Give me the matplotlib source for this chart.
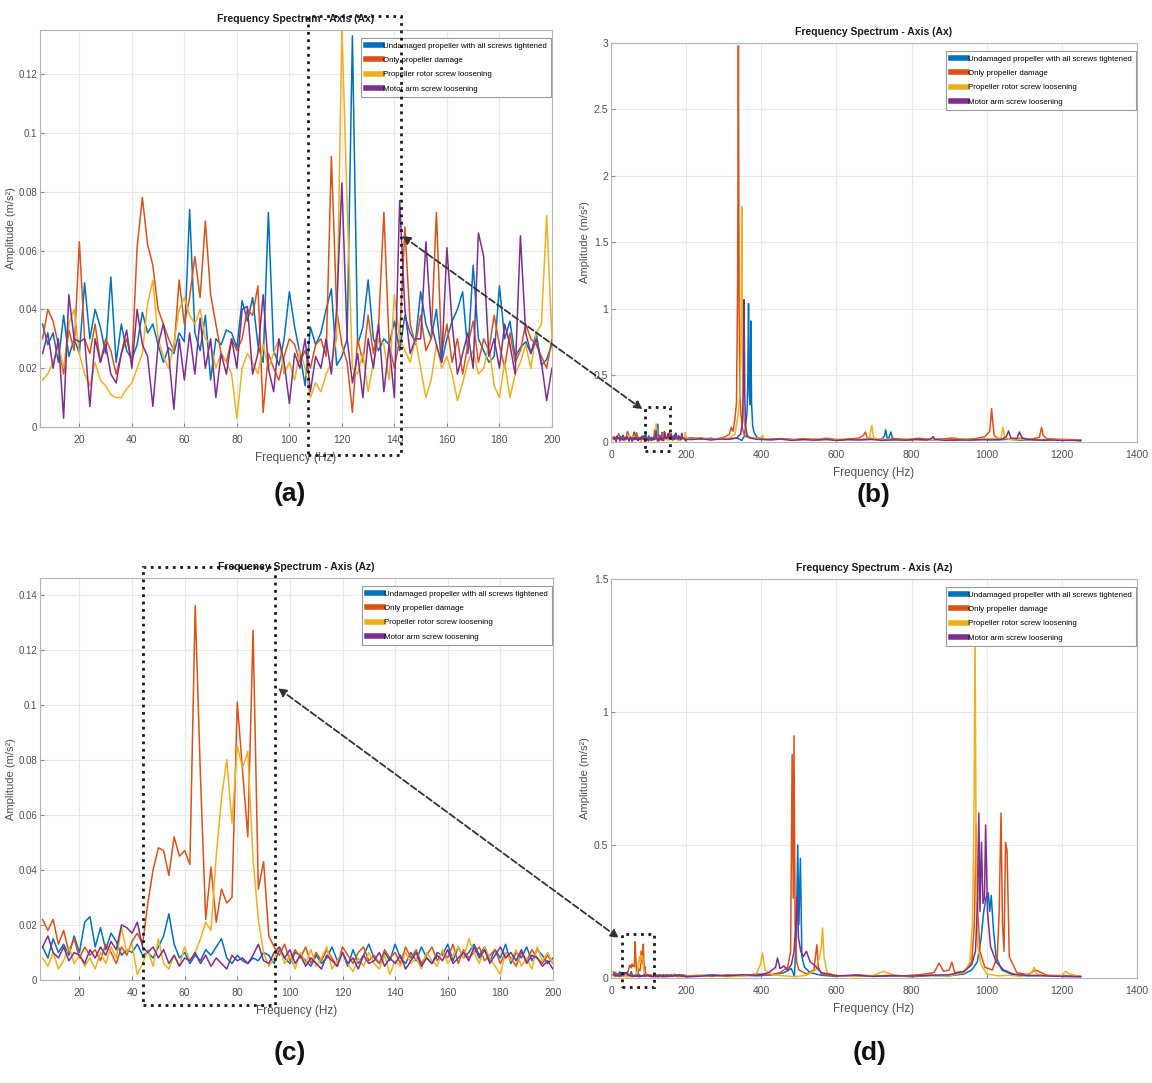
import numpy as np
import matplotlib.pyplot as plt
from matplotlib.patches import Rectangle, ConnectionPatch
from matplotlib.ticker import FuncFormatter

plt.rcParams['font.family'] = ['Liberation Sans', 'DejaVu Sans']

labels = ['Undamaged propeller with all screws tightened', 'Only propeller damage',
          'Propeller rotor screw loosening', 'Motor arm screw loosening']
colors = ['#0072BD', '#D95319', '#EDB120', '#7E2F8E']

# zoomed spectra 6..200 Hz, 2 Hz step
freq_zoom = np.arange(6, 201, 2)

# ---- Axis Ax, zoomed (panel a) ----
ax_undamaged = [
    0.035, 0.028, 0.032, 0.022, 0.038, 0.024, 0.030, 0.025, 0.049, 0.030,
    0.040, 0.034, 0.025, 0.051, 0.022, 0.035, 0.026, 0.023, 0.028, 0.039,
    0.032, 0.035, 0.028, 0.022, 0.027, 0.025, 0.032, 0.029, 0.074, 0.032,
    0.026, 0.038, 0.016, 0.030, 0.028, 0.033, 0.032, 0.027, 0.043, 0.036,
    0.044, 0.028, 0.022, 0.073, 0.026, 0.021, 0.030, 0.046, 0.034, 0.025,
    0.014, 0.034, 0.028, 0.032, 0.040, 0.047, 0.021, 0.024, 0.030, 0.133,
    0.028, 0.034, 0.050, 0.030, 0.026, 0.030, 0.028, 0.036, 0.026, 0.038,
    0.032, 0.029, 0.046, 0.035, 0.030, 0.040, 0.022, 0.030, 0.036, 0.040,
    0.046, 0.025, 0.055, 0.030, 0.026, 0.022, 0.024, 0.048, 0.030, 0.036,
    0.024, 0.027, 0.029, 0.025, 0.032, 0.021, 0.023, 0.028]
ax_prop_damage = [
    0.030, 0.040, 0.036, 0.028, 0.018, 0.033, 0.026, 0.063, 0.030, 0.025,
    0.035, 0.022, 0.030, 0.026, 0.018, 0.025, 0.030, 0.022, 0.061, 0.078,
    0.062, 0.055, 0.040, 0.035, 0.030, 0.026, 0.050, 0.035, 0.044, 0.058,
    0.044, 0.070, 0.045, 0.035, 0.025, 0.022, 0.030, 0.026, 0.030, 0.040,
    0.038, 0.048, 0.005, 0.025, 0.020, 0.016, 0.024, 0.030, 0.028, 0.022,
    0.026, 0.020, 0.028, 0.030, 0.024, 0.092, 0.040, 0.028, 0.022, 0.005,
    0.030, 0.022, 0.038, 0.025, 0.035, 0.073, 0.028, 0.020, 0.030, 0.068,
    0.035, 0.028, 0.038, 0.026, 0.030, 0.073, 0.025, 0.035, 0.022, 0.030,
    0.018, 0.028, 0.036, 0.022, 0.030, 0.026, 0.038, 0.028, 0.020, 0.032,
    0.022, 0.026, 0.035, 0.030, 0.028, 0.024, 0.020, 0.030]
ax_rotor_screw = [
    0.016, 0.018, 0.022, 0.028, 0.020, 0.035, 0.040, 0.025, 0.018, 0.014,
    0.022, 0.016, 0.014, 0.011, 0.010, 0.010, 0.013, 0.015, 0.020, 0.025,
    0.042, 0.050, 0.030, 0.024, 0.020, 0.028, 0.040, 0.044, 0.038, 0.035,
    0.040, 0.030, 0.028, 0.020, 0.025, 0.022, 0.018, 0.003, 0.020, 0.025,
    0.022, 0.018, 0.028, 0.020, 0.025, 0.030, 0.018, 0.022, 0.016, 0.026,
    0.020, 0.010, 0.015, 0.012, 0.018, 0.022, 0.030, 0.136, 0.076, 0.020,
    0.018, 0.025, 0.012, 0.022, 0.030, 0.028, 0.016, 0.045, 0.030, 0.026,
    0.022, 0.030, 0.020, 0.010, 0.016, 0.028, 0.020, 0.024, 0.018, 0.009,
    0.015, 0.022, 0.026, 0.018, 0.020, 0.028, 0.014, 0.010, 0.022, 0.010,
    0.018, 0.022, 0.028, 0.020, 0.032, 0.035, 0.072, 0.030]
ax_arm_screw = [
    0.025, 0.032, 0.020, 0.030, 0.003, 0.045, 0.030, 0.029, 0.030, 0.007,
    0.030, 0.022, 0.028, 0.018, 0.015, 0.025, 0.033, 0.020, 0.040, 0.028,
    0.024, 0.007, 0.028, 0.035, 0.025, 0.006, 0.030, 0.016, 0.032, 0.018,
    0.037, 0.020, 0.030, 0.010, 0.025, 0.018, 0.030, 0.020, 0.040, 0.041,
    0.018, 0.025, 0.045, 0.020, 0.012, 0.030, 0.022, 0.008, 0.025, 0.020,
    0.030, 0.012, 0.024, 0.020, 0.030, 0.018, 0.040, 0.083, 0.030, 0.015,
    0.025, 0.010, 0.030, 0.020, 0.035, 0.012, 0.028, 0.010, 0.077, 0.040,
    0.025, 0.030, 0.030, 0.063, 0.035, 0.028, 0.022, 0.061, 0.035, 0.018,
    0.025, 0.032, 0.020, 0.066, 0.058, 0.024, 0.030, 0.020, 0.035, 0.028,
    0.018, 0.065, 0.032, 0.025, 0.030, 0.022, 0.009, 0.020]

# ---- Axis Az, zoomed (panel c) ----
az_undamaged = [
    0.012, 0.008, 0.015, 0.010, 0.013, 0.009, 0.016, 0.010, 0.021, 0.023,
    0.012, 0.019, 0.011, 0.017, 0.014, 0.009, 0.011, 0.010, 0.013, 0.009,
    0.010, 0.008, 0.012, 0.016, 0.024, 0.013, 0.008, 0.010, 0.006, 0.009,
    0.007, 0.011, 0.009, 0.012, 0.015, 0.008, 0.006, 0.009, 0.007, 0.006,
    0.008, 0.007, 0.010, 0.009, 0.006, 0.011, 0.008, 0.006, 0.010, 0.009,
    0.007, 0.005, 0.009, 0.006, 0.008, 0.012, 0.007, 0.010, 0.005, 0.011,
    0.006, 0.009, 0.013, 0.008, 0.006, 0.010, 0.007, 0.013, 0.008, 0.006,
    0.010, 0.007, 0.012, 0.008, 0.006, 0.010, 0.009, 0.013, 0.007, 0.012,
    0.008, 0.010, 0.013, 0.009, 0.012, 0.007, 0.011, 0.008, 0.013, 0.006,
    0.010, 0.008, 0.012, 0.007, 0.011, 0.009, 0.006, 0.008]
az_prop_damage = [
    0.022, 0.018, 0.022, 0.013, 0.018, 0.010, 0.015, 0.008, 0.012, 0.009,
    0.011, 0.007, 0.013, 0.010, 0.006, 0.012, 0.009, 0.014, 0.017, 0.013,
    0.028, 0.040, 0.048, 0.047, 0.038, 0.052, 0.045, 0.047, 0.042, 0.136,
    0.074, 0.022, 0.041, 0.021, 0.033, 0.028, 0.030, 0.101, 0.076, 0.052,
    0.127, 0.033, 0.043, 0.016, 0.012, 0.009, 0.013, 0.007, 0.011, 0.008,
    0.012, 0.006, 0.010, 0.007, 0.011, 0.008, 0.005, 0.012, 0.009, 0.006,
    0.010, 0.012, 0.007, 0.009, 0.006, 0.011, 0.008, 0.010, 0.006, 0.012,
    0.008, 0.011, 0.006, 0.009, 0.012, 0.007, 0.010, 0.008, 0.013, 0.006,
    0.011, 0.008, 0.010, 0.012, 0.007, 0.009, 0.011, 0.006, 0.010, 0.008,
    0.005, 0.010, 0.007, 0.011, 0.008, 0.006, 0.009, 0.006]
az_rotor_screw = [
    0.008, 0.005, 0.010, 0.004, 0.007, 0.012, 0.006, 0.009, 0.005, 0.008,
    0.004, 0.010, 0.006, 0.012, 0.008, 0.019, 0.010, 0.013, 0.002, 0.006,
    0.011, 0.005, 0.015, 0.006, 0.004, 0.009, 0.005, 0.012, 0.007, 0.010,
    0.015, 0.021, 0.018, 0.045, 0.066, 0.080, 0.057, 0.085, 0.077, 0.083,
    0.044, 0.022, 0.010, 0.005, 0.008, 0.012, 0.006, 0.009, 0.004, 0.010,
    0.006, 0.011, 0.005, 0.008, 0.012, 0.004, 0.007, 0.010, 0.006, 0.003,
    0.008, 0.005, 0.010, 0.006, 0.004, 0.009, 0.002, 0.007, 0.005, 0.010,
    0.006, 0.008, 0.004, 0.010, 0.007, 0.005, 0.011, 0.006, 0.009, 0.012,
    0.008, 0.015, 0.010, 0.006, 0.012, 0.008, 0.005, 0.002, 0.010, 0.007,
    0.011, 0.005, 0.008, 0.004, 0.012, 0.007, 0.010, 0.006]
az_arm_screw = [
    0.012, 0.016, 0.010, 0.008, 0.012, 0.007, 0.010, 0.009, 0.006, 0.011,
    0.008, 0.012, 0.009, 0.014, 0.011, 0.020, 0.019, 0.017, 0.021, 0.012,
    0.010, 0.012, 0.008, 0.011, 0.006, 0.009, 0.005, 0.008, 0.007, 0.010,
    0.006, 0.009, 0.005, 0.008, 0.006, 0.004, 0.009, 0.007, 0.008, 0.006,
    0.009, 0.013, 0.007, 0.006, 0.010, 0.012, 0.008, 0.011, 0.006, 0.009,
    0.005, 0.008, 0.006, 0.004, 0.009, 0.007, 0.005, 0.010, 0.006, 0.008,
    0.004, 0.009, 0.006, 0.007, 0.010, 0.005, 0.008, 0.006, 0.009, 0.004,
    0.007, 0.010, 0.005, 0.008, 0.006, 0.009, 0.007, 0.011, 0.006, 0.008,
    0.010, 0.007, 0.012, 0.008, 0.011, 0.006, 0.009, 0.012, 0.008, 0.010,
    0.007, 0.011, 0.006, 0.009, 0.008, 0.005, 0.007, 0.004]

# ---- full range beyond 200 Hz, Axis Ax (panel b) ----
axf_undamaged_f = [215, 240, 265, 290, 315, 335, 348, 355, 359, 362, 364, 366, 368, 370, 372,
                   374, 377, 381, 388, 400, 430, 460, 490, 520, 550, 580, 610, 640, 670, 700,
                   722, 728, 731, 735, 740, 745, 749, 760, 790, 820, 850, 880, 910, 940, 970,
                   1000, 1030, 1060, 1090, 1120, 1150, 1180, 1210, 1235, 1250]
axf_undamaged = [0.030, 0.022, 0.028, 0.020, 0.026, 0.030, 0.012, 0.045, 0.15, 0.22, 0.45, 1.04, 0.35, 0.28, 0.91,
                 0.30, 0.12, 0.07, 0.035, 0.025, 0.018, 0.024, 0.016, 0.022, 0.015, 0.020, 0.014, 0.022, 0.018, 0.020,
                 0.025, 0.045, 0.092, 0.030, 0.035, 0.075, 0.028, 0.020, 0.014, 0.022, 0.016, 0.020, 0.012, 0.018, 0.015,
                 0.022, 0.016, 0.020, 0.014, 0.018, 0.012, 0.016, 0.014, 0.012, 0.010]
axf_prop_damage_f = [215, 240, 265, 290, 305, 315, 320, 325, 330, 334, 337, 339, 341, 343, 346,
                     350, 355, 362, 375, 395, 425, 455, 485, 515, 545, 575, 605, 635, 660, 672,
                     677, 682, 700, 730, 760, 790, 820, 850, 880, 910, 940, 970, 995, 1008, 1013,
                     1016, 1020, 1030, 1060, 1090, 1120, 1140, 1146, 1150, 1160, 1190, 1220, 1250]
axf_prop_damage = [0.025, 0.030, 0.020, 0.028, 0.040, 0.060, 0.110, 0.080, 0.18, 0.30, 1.20, 2.98, 1.00, 0.35, 0.20,
                   0.10, 0.05, 0.035, 0.030, 0.022, 0.020, 0.026, 0.018, 0.025, 0.020, 0.028, 0.016, 0.022, 0.030, 0.050,
                   0.075, 0.030, 0.022, 0.018, 0.025, 0.020, 0.028, 0.018, 0.022, 0.030, 0.020, 0.025, 0.040, 0.080, 0.25,
                   0.15, 0.05, 0.025, 0.020, 0.028, 0.022, 0.035, 0.11, 0.05, 0.025, 0.020, 0.018, 0.015]
axf_rotor_screw_f = [215, 240, 265, 290, 315, 330, 338, 343, 346, 348, 350, 353, 358, 365, 380,
                     398, 403, 408, 430, 460, 490, 520, 550, 580, 610, 640, 670, 688, 694, 699,
                     720, 750, 780, 810, 840, 870, 900, 930, 960, 990, 1020, 1038, 1043, 1048, 1070,
                     1100, 1130, 1160, 1190, 1220, 1250]
axf_rotor_screw = [0.020, 0.028, 0.018, 0.025, 0.030, 0.06, 0.20, 0.35, 0.80, 1.77, 0.60, 0.20, 0.08, 0.035, 0.025,
                   0.030, 0.05, 0.025, 0.018, 0.022, 0.015, 0.020, 0.025, 0.018, 0.022, 0.016, 0.020, 0.030, 0.125, 0.030,
                   0.020, 0.015, 0.022, 0.018, 0.014, 0.020, 0.016, 0.022, 0.018, 0.020, 0.025, 0.030, 0.11, 0.030, 0.018,
                   0.022, 0.015, 0.020, 0.016, 0.018, 0.012]
axf_arm_screw_f = [215, 240, 265, 290, 315, 335, 345, 350, 352, 354, 356, 358, 362, 370, 390,
                   420, 450, 480, 510, 540, 570, 600, 630, 660, 690, 720, 750, 780, 810, 840,
                   852, 857, 862, 890, 920, 950, 980, 1010, 1040, 1052, 1058, 1064, 1080, 1087, 1094,
                   1110, 1140, 1170, 1200, 1230, 1250]
axf_arm_screw = [0.018, 0.025, 0.015, 0.022, 0.020, 0.030, 0.060, 0.15, 0.40, 1.07, 0.35, 0.12, 0.05, 0.030, 0.020,
                 0.016, 0.022, 0.012, 0.018, 0.014, 0.020, 0.012, 0.018, 0.015, 0.020, 0.012, 0.016, 0.014, 0.018, 0.015,
                 0.025, 0.040, 0.020, 0.012, 0.016, 0.014, 0.018, 0.015, 0.020, 0.040, 0.083, 0.030, 0.025, 0.075, 0.030,
                 0.018, 0.014, 0.016, 0.012, 0.014, 0.010]

# ---- full range beyond 200 Hz, Axis Az (panel d) ----
azf_undamaged_f = [230, 270, 310, 350, 390, 430, 460, 480, 488, 493, 497, 500, 504, 508, 515,
                   530, 560, 600, 650, 700, 750, 800, 850, 900, 940, 960, 975, 985, 992, 998,
                   1004, 1008, 1012, 1018, 1025, 1040, 1070, 1110, 1150, 1200, 1250]
azf_undamaged = [0.008, 0.012, 0.006, 0.010, 0.008, 0.012, 0.020, 0.035, 0.006, 0.15, 0.50, 0.20, 0.45, 0.08, 0.04,
                 0.02, 0.010, 0.006, 0.009, 0.006, 0.008, 0.005, 0.009, 0.008, 0.015, 0.03, 0.06, 0.15, 0.25, 0.30,
                 0.32, 0.25, 0.31, 0.18, 0.08, 0.03, 0.012, 0.008, 0.010, 0.006, 0.005]
azf_prop_damage_f = [230, 270, 310, 350, 390, 420, 450, 470, 478, 482, 485, 487, 490, 494, 500,
                     520, 540, 548, 552, 560, 580, 620, 660, 700, 740, 780, 820, 860, 873, 885,
                     900, 907, 915, 940, 960, 967, 972, 976, 982, 995, 1015, 1028, 1033, 1038, 1042,
                     1046, 1050, 1054, 1060, 1080, 1110, 1130, 1160, 1200, 1250]
azf_prop_damage = [0.010, 0.006, 0.012, 0.008, 0.015, 0.010, 0.020, 0.040, 0.10, 0.84, 0.30, 0.91, 0.20, 0.06, 0.030,
                   0.015, 0.030, 0.125, 0.040, 0.015, 0.010, 0.008, 0.012, 0.006, 0.010, 0.008, 0.012, 0.020, 0.056, 0.025,
                   0.030, 0.060, 0.020, 0.025, 0.060, 0.20, 0.58, 0.25, 0.10, 0.040, 0.030, 0.08, 0.24, 0.62, 0.20,
                   0.10, 0.51, 0.48, 0.08, 0.020, 0.012, 0.030, 0.010, 0.008, 0.006]
azf_rotor_screw_f = [230, 270, 310, 350, 385, 398, 403, 410, 430, 460, 490, 520, 545, 555, 560,
                     563, 567, 575, 600, 650, 700, 725, 735, 760, 800, 850, 900, 940, 955, 962,
                     966, 969, 972, 976, 985, 1000, 1030, 1060, 1090, 1120, 1126, 1132, 1160, 1200, 1210,
                     1220, 1250]
azf_rotor_screw = [0.006, 0.010, 0.005, 0.008, 0.012, 0.050, 0.094, 0.030, 0.012, 0.008, 0.005, 0.010, 0.030, 0.08, 0.12,
                   0.188, 0.08, 0.020, 0.008, 0.006, 0.010, 0.025, 0.020, 0.008, 0.006, 0.010, 0.008, 0.020, 0.06, 0.20,
                   0.60, 1.30, 0.40, 0.12, 0.05, 0.015, 0.008, 0.010, 0.006, 0.020, 0.040, 0.015, 0.008, 0.010, 0.025,
                   0.015, 0.005]
azf_arm_screw_f = [230, 270, 310, 350, 390, 420, 438, 443, 450, 460, 470, 480, 487, 492, 495,
                   499, 505, 512, 520, 530, 540, 560, 600, 650, 700, 750, 800, 850, 900, 940,
                   960, 970, 976, 979, 982, 986, 990, 994, 997, 1002, 1010, 1025, 1045, 1070, 1100,
                   1150, 1200, 1250]
azf_arm_screw = [0.006, 0.010, 0.008, 0.012, 0.010, 0.020, 0.040, 0.075, 0.035, 0.045, 0.030, 0.050, 0.10, 0.20, 0.306,
                 0.15, 0.10, 0.080, 0.10, 0.060, 0.050, 0.020, 0.008, 0.010, 0.006, 0.009, 0.007, 0.010, 0.012, 0.025,
                 0.05, 0.10, 0.30, 0.62, 0.25, 0.51, 0.28, 0.30, 0.575, 0.25, 0.12, 0.06, 0.030, 0.015, 0.010,
                 0.008, 0.006, 0.005]

zoom_ax = [ax_undamaged, ax_prop_damage, ax_rotor_screw, ax_arm_screw]
zoom_az = [az_undamaged, az_prop_damage, az_rotor_screw, az_arm_screw]
full_ax = [(axf_undamaged_f, axf_undamaged), (axf_prop_damage_f, axf_prop_damage),
           (axf_rotor_screw_f, axf_rotor_screw), (axf_arm_screw_f, axf_arm_screw)]
full_az = [(azf_undamaged_f, azf_undamaged), (azf_prop_damage_f, azf_prop_damage),
           (azf_rotor_screw_f, azf_rotor_screw), (azf_arm_screw_f, azf_arm_screw)]

fig = plt.figure(figsize=(11.52, 10.83), dpi=100)
ax_a = fig.add_axes([0.0347, 0.6057, 0.4444, 0.3666])
ax_b = fig.add_axes([0.5304, 0.5919, 0.4566, 0.3684])
ax_c = fig.add_axes([0.0347, 0.0951, 0.4453, 0.3712])
ax_d = fig.add_axes([0.5304, 0.0970, 0.4566, 0.3684])

gray = '#505050'


def style(ax, title, xlim, ylim, xticks, yticks, narrow_left=False):
    ax.set_xlim(xlim)
    ax.set_ylim(ylim)
    ax.set_xticks(xticks)
    ax.set_yticks(yticks)
    ax.yaxis.set_major_formatter(FuncFormatter(lambda v, p: '%g' % round(v, 4)))
    ax.grid(True, color='#e8e8e8', lw=0.8)
    ax.set_axisbelow(True)
    for s in ax.spines.values():
        s.set_color('#b5b5b5')
        s.set_linewidth(0.8)
    ax.tick_params(direction='in', length=3, color='#888888', labelcolor=gray, labelsize=7.5)
    ax.tick_params(axis='x', pad=6)
    ax.tick_params(axis='y', pad=2)
    if narrow_left:
        ax.tick_params(axis='y', labelsize=7)
    ax.set_title(title, fontsize=7.5, fontweight='bold', color='#1a1a1a', pad=6)
    ax.set_xlabel('Frequency (Hz)', fontsize=8.5, color=gray, labelpad=5)
    ax.set_ylabel('Amplitude (m/s²)', fontsize=8, color=gray, labelpad=3)
    if narrow_left:
        ax.yaxis.set_label_coords(-0.047, 0.5)
    leg = ax.legend(loc='upper right', bbox_to_anchor=(0.998, 0.98), borderaxespad=0,
                    fontsize=5.7, frameon=True, fancybox=False, framealpha=1,
                    edgecolor='#9a9a9a', handlelength=2.0, handletextpad=0.15,
                    borderpad=0.55, labelspacing=0.85)
    leg.get_frame().set_linewidth(0.8)
    for ln in leg.get_lines():
        ln.set_linewidth(4)
    leg.set_zorder(10)


for vals, c, lab in zip(zoom_ax, colors, labels):
    ax_a.plot(freq_zoom, vals, color=c, lw=1.1, label=lab)
for (f, v), low, c, lab in zip(full_ax, zoom_ax, colors, labels):
    ax_b.plot(np.concatenate([freq_zoom, f]), np.concatenate([low, v]), color=c, lw=1.1, label=lab)
for vals, c, lab in zip(zoom_az, colors, labels):
    ax_c.plot(freq_zoom, vals, color=c, lw=1.1, label=lab)
for (f, v), low, c, lab in zip(full_az, zoom_az, colors, labels):
    ax_d.plot(np.concatenate([freq_zoom, f]), np.concatenate([low, v]), color=c, lw=1.1, label=lab)

style(ax_a, 'Frequency Spectrum - Axis (Ax)', (5, 200), (0, 0.135),
      np.arange(20, 201, 20), np.arange(0, 0.121, 0.02), narrow_left=True)
style(ax_b, 'Frequency Spectrum - Axis (Ax)', (0, 1400), (0, 3),
      np.arange(0, 1401, 200), np.arange(0, 3.01, 0.5))
style(ax_c, 'Frequency Spectrum - Axis (Az)', (5, 200), (0, 0.146),
      np.arange(20, 201, 20), np.arange(0, 0.141, 0.02), narrow_left=True)
style(ax_d, 'Frequency Spectrum - Axis (Az)', (0, 1400), (0, 1.5),
      np.arange(0, 1401, 200), np.arange(0, 1.51, 0.5))

# dotted zoom boxes
box_kw = dict(fill=False, ls=':', lw=2, ec='#1a1a1a', clip_on=False, zorder=12)
ax_a.add_patch(Rectangle((107, -0.0096), 35.5, 0.1492, **box_kw))
ax_b.add_patch(Rectangle((90, -0.07), 68, 0.33, **box_kw))
ax_c.add_patch(Rectangle((44, -0.009), 50.5, 0.159, **box_kw))
ax_d.add_patch(Rectangle((29, -0.035), 85, 0.20, **box_kw))

# dashed arrows linking the boxes
for xa, axa, xb, axb in [((143, 0.065), ax_a, (84, 0.245), ax_b),
                         ((95.5, 0.106), ax_c, (21, 0.15), ax_d)]:
    con = ConnectionPatch(xyA=xa, coordsA=axa.transData, xyB=xb, coordsB=axb.transData,
                          arrowstyle='<|-|>', ls='--', lw=1.3, color='#333333',
                          mutation_scale=12, zorder=13)
    fig.add_artist(con)

for x, y, t in [(0.252, 0.5440, '(a)'), (0.758, 0.5430, '(b)'),
                (0.252, 0.0280, '(c)'), (0.755, 0.0280, '(d)')]:
    fig.text(x, y, t, ha='center', va='center', fontsize=19, fontweight='bold', color='#111111')

fig.savefig('out.png', dpi=100, facecolor='white')
